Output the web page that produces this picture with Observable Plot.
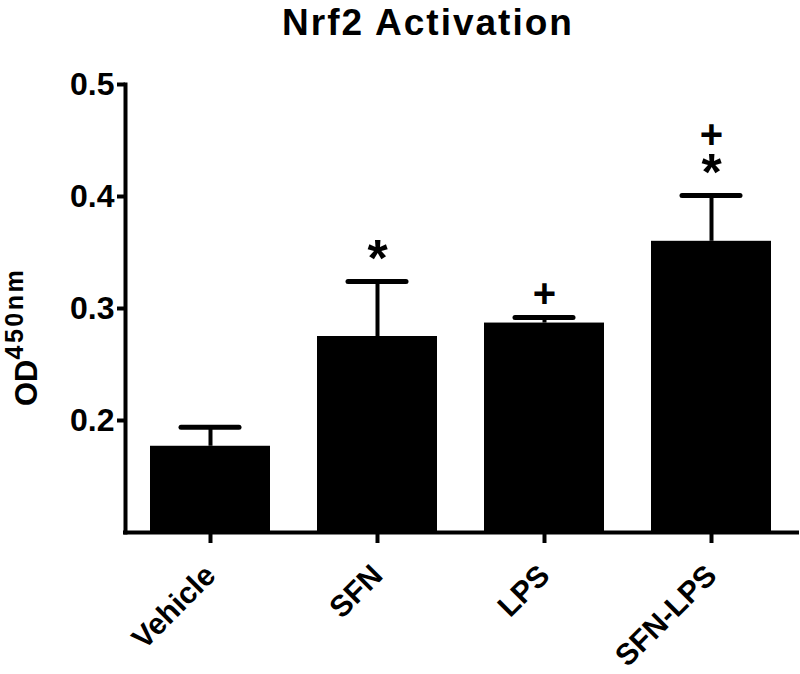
<!DOCTYPE html>
<html>
<head>
<meta charset="utf-8">
<script src="https://cdn.jsdelivr.net/npm/d3@7"></script>
<script src="https://cdn.jsdelivr.net/npm/@observablehq/plot@0.6"></script>
<style>
  html, body { margin: 0; padding: 0; background: #fff; }
  #chart { width: 800px; height: 674px; }
</style>
</head>
<body>
<div id="chart"></div>
<script>
// ---- data ----
const categories = ["Vehicle", "SFN", "LPS", "SFN-LPS"];
const means      = [0.177, 0.275, 0.287, 0.360];
const upperErr   = [0.194, 0.324, 0.292, 0.401];
const stars      = ["", "*", "", "*"];
const pluses     = ["", "", "+", "+"];
const yTicks     = [0.2, 0.3, 0.4, 0.5];
const yDomain    = [0.1, 0.5];
const titleText  = "Nrf2 Activation";
const yLabelMain = "OD";
const yLabelSup  = "450nm";

const rows = categories.map((c, i) => ({
  cat: c, mean: means[i], upper: upperErr[i], star: stars[i], plus: pluses[i]
}));

const font = "'Liberation Sans', Arial, Helvetica, sans-serif";

const chart = Plot.plot({
  width: 800,
  height: 674,
  marginTop: 84,
  marginBottom: 142,
  marginLeft: 125,
  marginRight: 3,
  style: { fontFamily: font, fontWeight: "bold", background: "white", color: "black", overflow: "visible" },
  x: { domain: categories, paddingInner: 0.28, paddingOuter: 0.144, label: null },
  y: { domain: yDomain, label: null },
  marks: [
    Plot.barY(rows, { x: "cat", y1: yDomain[0], y2: "mean", fill: "black" }),
    Plot.ruleX(rows, { x: "cat", y1: "mean", y2: "upper", stroke: "black", strokeWidth: 4 }),
    Plot.tickY(rows, { x: "cat", y: "upper", stroke: "black", strokeWidth: 5, strokeLinecap: "round", insetLeft: 31, insetRight: 31 }),
    Plot.text(rows.filter(d => d.star), { x: "cat", y: "upper", text: "star", dy: -22, fontSize: 52, fontFamily: font, fontWeight: "bold" }),
    Plot.text(rows.filter(d => d.plus && !d.star), { x: "cat", y: "upper", text: "plus", dy: -23, fontSize: 40, fontFamily: font, fontWeight: "bold" }),
    Plot.text(rows.filter(d => d.plus && d.star), { x: "cat", y: "upper", text: "plus", dy: -60, fontSize: 40, fontFamily: font, fontWeight: "bold" }),
    Plot.axisY({ ticks: yTicks, tickSize: 8, tickPadding: 3, strokeWidth: 4, fontSize: 32, tickFormat: d3.format(".1f"), label: null }),
    Plot.axisX({ tickSize: 11, tickRotate: -45, tickPadding: 27, strokeWidth: 4, fontSize: 30, label: null }),
    Plot.ruleY([yDomain[0]], { stroke: "black", strokeWidth: 4, strokeLinecap: "square" }),
    Plot.frame({ anchor: "left", stroke: "black", strokeWidth: 4, strokeLinecap: "square" })
  ]
});

document.getElementById("chart").appendChild(chart);

const svg = d3.select(chart);
svg.append("text")
  .attr("x", 428).attr("y", 35)
  .attr("text-anchor", "middle")
  .attr("font-family", font).attr("font-weight", "bold").attr("font-size", 37)
  .attr("letter-spacing", 2)
  .attr("fill", "black")
  .text(titleText);

const yl = svg.append("text")
  .attr("transform", "translate(37,406) rotate(-90)")
  .attr("text-anchor", "start")
  .attr("font-family", font).attr("font-weight", "bold").attr("font-size", 31)
  .attr("fill", "black");
yl.append("tspan").text(yLabelMain);
yl.append("tspan").attr("dy", -14).attr("font-size", 25).attr("letter-spacing", 2.5).text(yLabelSup);
</script>
</body>
</html>
